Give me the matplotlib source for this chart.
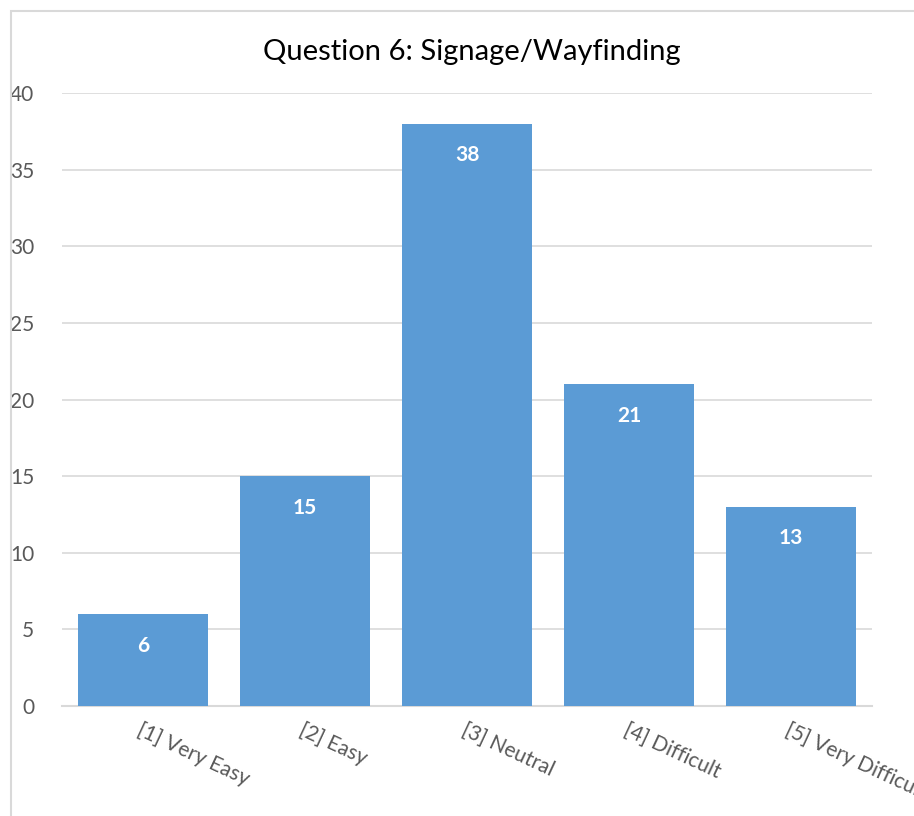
import matplotlib.pyplot as plt
from matplotlib.patches import Rectangle

categories = ['[1] Very Easy', '[2] Easy', '[3] Neutral', '[4] Difficult', '[5] Very Difficult']
counts = [6, 15, 38, 21, 13]
yticks = [0, 5, 10, 15, 20, 25, 30, 35, 40]

plt.rcParams['font.family'] = ['Lato', 'DejaVu Sans']

fig = plt.figure(figsize=(9.14, 8.16), dpi=100)
ax = fig.add_axes([62 / 914, 1 - 706 / 816, (872 - 62) / 914, (706 - 93) / 816])

# chart frame, cut off on the right and bottom like the screenshot
fig.patches.append(Rectangle((11 / 914, -0.1), 1.2, 1 - 11 / 816 + 0.1,
                             transform=fig.transFigure, fill=False,
                             edgecolor='#d9d9d9', linewidth=1.5))

x = range(len(categories))
bars = ax.bar(x, counts, width=0.8, color='#5b9bd5', zorder=3)

for b, v in zip(bars, counts):
    ax.text(b.get_x() + b.get_width() / 2, v - 1.4, str(v), ha='center', va='top',
            color='white', fontsize=15, fontweight='bold', zorder=4)

ax.set_xlim(-0.5, len(categories) - 0.5)
ax.set_ylim(0, 40)
ax.set_yticks(yticks)
ax.grid(axis='y', color='#d9d9d9', linewidth=1.2, zorder=0)
ax.tick_params(axis='y', length=0, pad=20, labelsize=15, labelcolor='#595959')
ax.tick_params(axis='x', length=0, pad=10)
ax.set_xticks(list(x))
ax.set_xticklabels(categories, rotation=-25, ha='left', va='top',
                   rotation_mode='anchor', fontsize=15, color='#595959')
for s in ['top', 'right', 'left']:
    ax.spines[s].set_visible(False)
ax.spines['bottom'].set_color('#d9d9d9')
ax.spines['bottom'].set_linewidth(1.5)

fig.text(472 / 914, 1 - 52 / 816, 'Question 6: Signage/Wayfinding', ha='center', va='center',
         fontsize=21, color='black')

fig.savefig('out.png', dpi=100)
